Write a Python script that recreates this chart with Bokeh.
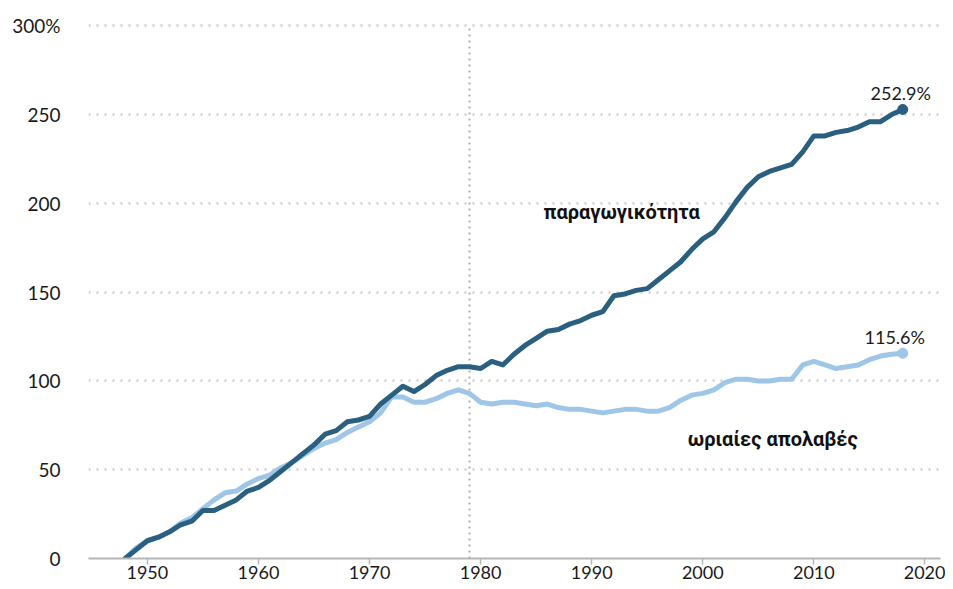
from bokeh.plotting import figure
from bokeh.models import Range1d, FixedTicker, Label
from bokeh.embed import file_html
from bokeh.resources import INLINE

years = list(range(1948, 2019))
productivity = [0, 5, 10, 12, 15, 19, 21, 27, 27, 30, 33, 38, 40, 44, 49, 54, 59, 64, 70, 72,
                77, 78, 80, 87, 92, 97, 94, 98, 103, 106, 108, 108, 107, 111, 109, 115, 120,
                124, 128, 129, 132, 134, 137, 139, 148, 149, 151, 152, 157, 162, 167, 174, 180,
                184, 192, 201, 209, 215, 218, 220, 222, 229, 238, 238, 240, 241, 243, 246, 246,
                250, 252.9]
compensation = [0, 6, 10, 12, 15, 20, 23, 28, 33, 37, 38, 42, 45, 47, 51, 54, 58, 62, 65, 67,
                71, 74, 77, 82, 91, 91, 88, 88, 90, 93, 95, 93, 88, 87, 88, 88, 87, 86, 87, 85,
                84, 84, 83, 82, 83, 84, 84, 83, 83, 85, 89, 92, 93, 95, 99, 101, 101, 100, 100,
                101, 101, 109, 111, 109, 107, 108, 109, 112, 114, 115, 115.6]
y_ticks = [0, 50, 100, 150, 200, 250, 300]
y_tick_labels = {0: "0", 50: "50", 100: "100", 150: "150", 200: "200", 250: "250", 300: "300%"}
x_ticks = [1950, 1960, 1970, 1980, 1990, 2000, 2010, 2020]
divide_year = 1979
y_max = 300
label_prod = "παραγωγικότητα"
label_comp = "ωριαίες απολαβές"

DARK = "#2a5f7f"
LIGHT = "#9fc6e6"
NUM_FONT = "Lato"
GREEK_FONT = "Roboto"

p = figure(width=945, height=581, output_backend="svg", toolbar_location=None,
           x_range=Range1d(1944.7, 2021.4), y_range=Range1d(0, 303),
           min_border_left=88, min_border_right=5, min_border_top=20, min_border_bottom=0)
p.outline_line_color = None
p.background_fill_color = "white"

# grid
p.xgrid.grid_line_color = None
p.ygrid.ticker = FixedTicker(ticks=[50, 100, 150, 200, 250, 300])
p.ygrid.grid_line_color = "#cfcfcf"
p.ygrid.grid_line_width = 2.5
p.ygrid.grid_line_dash = "2 6"

# y axis
p.yaxis.ticker = FixedTicker(ticks=y_ticks)
p.yaxis.major_label_overrides = y_tick_labels
p.yaxis.axis_line_color = None
p.yaxis.major_tick_line_color = None
p.yaxis.minor_tick_line_color = None
p.yaxis.major_label_standoff = 22
p.yaxis.major_label_text_font = NUM_FONT
p.yaxis.major_label_text_font_size = "19px"
p.yaxis.major_label_text_color = "#1a1a1a"

# x axis
p.xaxis.ticker = FixedTicker(ticks=x_ticks)
p.xaxis.axis_line_color = "#b5b5b5"
p.xaxis.axis_line_width = 2
p.xaxis.major_tick_line_color = "#b5b5b5"
p.xaxis.major_tick_line_width = 1.5
p.xaxis.major_tick_in = 0
p.xaxis.major_tick_out = 6
p.xaxis.minor_tick_line_color = None
p.xaxis.major_label_standoff = 1
p.xaxis.major_label_text_font = NUM_FONT
p.xaxis.major_label_text_font_size = "18px"
p.xaxis.major_label_text_color = "#1a1a1a"

# 1979 divider
p.segment(x0=[divide_year], y0=[0], x1=[divide_year], y1=[y_max], line_color="#b0b0b0",
          line_width=2, line_dash="2 4")

p.line(years, compensation, line_color=LIGHT, line_width=5, line_join="round", line_cap="round")
p.line(years, productivity, line_color=DARK, line_width=5, line_join="round", line_cap="round")
p.scatter([years[-1]], [compensation[-1]], size=10, color=LIGHT)
p.scatter([years[-1]], [productivity[-1]], size=10, color=DARK)

p.add_layout(Label(x=years[-1], y=productivity[-1], text=f"{productivity[-1]}%",
                   text_align="center", text_baseline="bottom", y_offset=5, x_offset=-2,
                   text_font=NUM_FONT, text_font_size="18px", text_color="#1a1a1a"))
p.add_layout(Label(x=years[-1], y=compensation[-1], text=f"{compensation[-1]}%",
                   text_align="center", text_baseline="bottom", y_offset=5, x_offset=-8,
                   text_font=NUM_FONT, text_font_size="18px", text_color="#1a1a1a"))
p.add_layout(Label(x=1992.7, y=195, text=label_prod, text_align="center",
                   text_baseline="middle", text_font=GREEK_FONT, text_font_size="20px",
                   text_font_style="bold", text_color="#111111"))
p.add_layout(Label(x=2006.3, y=67.5, text=label_comp, text_align="center",
                   text_baseline="middle", text_font=GREEK_FONT, text_font_size="20px",
                   text_font_style="bold", text_color="#111111"))

open("out.html", "w").write(file_html(p, INLINE))
